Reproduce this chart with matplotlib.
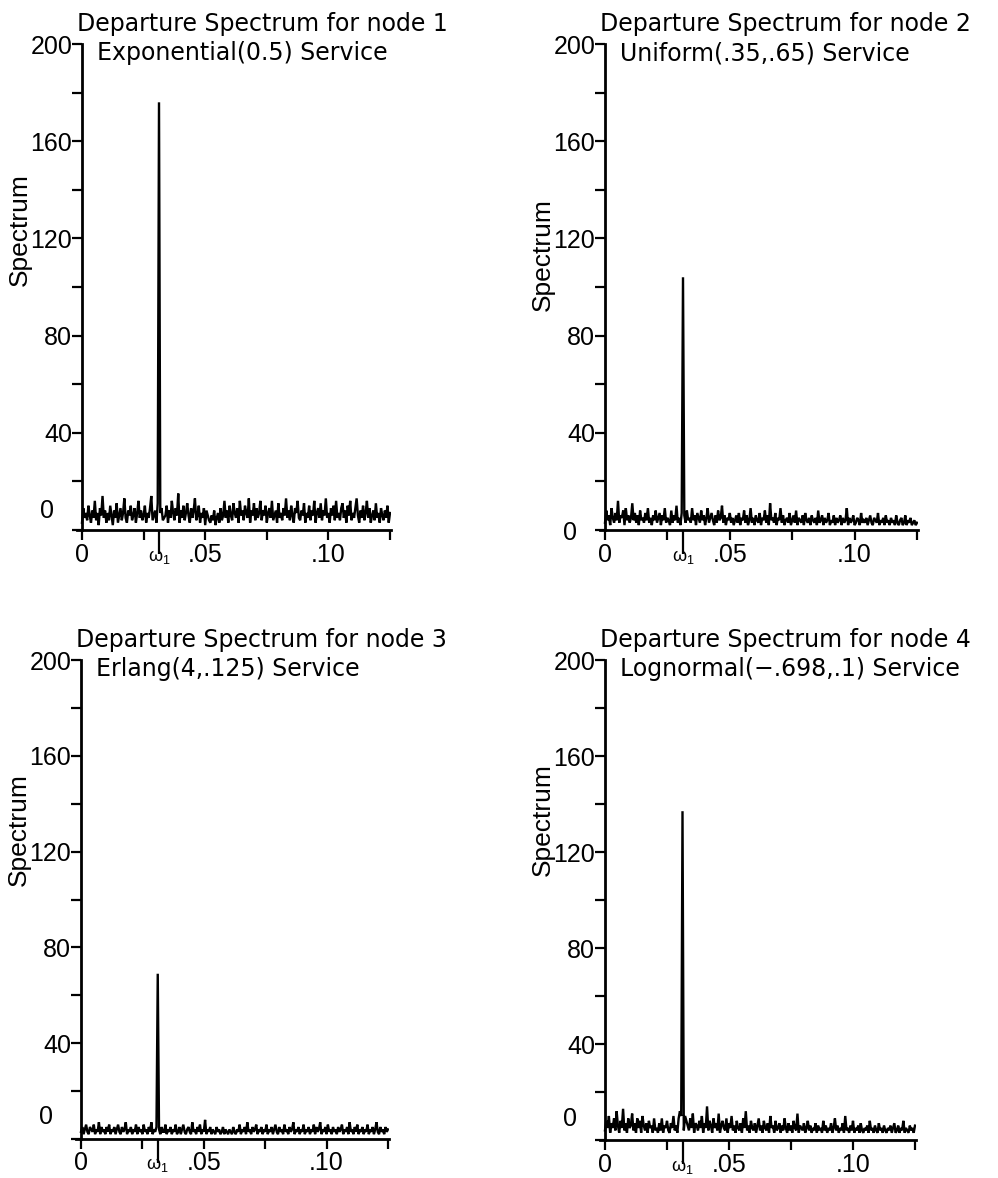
import numpy as np
import matplotlib
matplotlib.use("Agg")
import matplotlib.pyplot as plt
from matplotlib.transforms import ScaledTranslation

# ---------------- data ----------------
N_FREQ = 1920            # frequency grid k / 1920, k = 0..240  (0 .. 0.125)
OMEGA1 = 60 / 1920       # input frequency (index 60)

titles = ["Departure Spectrum for node 1", "Departure Spectrum for node 2",
          "Departure Spectrum for node 3", "Departure Spectrum for node 4"]
services = ["Exponential(0.5) Service", "Uniform(.35,.65) Service",
            "Erlang(4,.125) Service", "Lognormal(\u2212.698,.1) Service"]

spec_node1 = [
    3, 9, 5, 7, 4, 10, 6, 3, 8, 5, 12, 4, 7, 2, 9, 6, 14, 5, 8, 3,
    7, 4, 10, 6, 2, 8, 5, 11, 3, 6, 9, 4, 7, 13, 5, 3, 8, 6, 10, 4,
    6, 9, 3, 7, 12, 5, 8, 4, 6, 10, 3, 7, 5, 9, 14, 4, 6, 8, 3, 11,
    176, 7, 9, 4, 5, 6, 10, 3, 8, 5, 12, 7, 4, 9, 6, 15, 3, 8, 5, 10,
    4, 7, 11, 6, 3, 9, 5, 8, 13, 4, 6, 10, 3, 7, 5, 9, 2, 8, 6, 4,
    3, 6, 4, 8, 2, 5, 7, 3, 9, 4, 6, 12, 5, 8, 3, 10, 6, 4, 11, 7,
    5, 9, 3, 12, 6, 8, 4, 10, 7, 5, 13, 3, 8, 6, 11, 4, 9, 5, 7, 12,
    4, 8, 6, 10, 3, 7, 9, 5, 12, 4, 6, 8, 3, 11, 5, 7, 4, 9, 6, 13,
    5, 8, 4, 10, 6, 3, 9, 7, 12, 5, 4, 8, 6, 11, 3, 7, 5, 10, 4, 8,
    6, 12, 3, 7, 9, 5, 11, 4, 8, 6, 13, 5, 7, 3, 9, 6, 10, 4, 12, 5,
    7, 4, 9, 11, 5, 8, 3, 10, 6, 12, 4, 7, 5, 9, 13, 6, 3, 8, 5, 10,
    4, 7, 12, 5, 9, 3, 6, 8, 4, 11, 5, 7, 3, 9, 6, 4, 8, 5, 10, 3,
    7]

spec_node2 = [
    3, 8, 4, 6, 2, 9, 5, 3, 7, 4, 12, 3, 6, 5, 8, 2, 9, 4, 6, 3,
    5, 11, 4, 7, 3, 6, 2, 8, 4, 5, 3, 7, 4, 9, 3, 5, 2, 6, 4, 8,
    3, 5, 7, 2, 6, 4, 9, 3, 5, 4, 2, 8, 3, 6, 4, 10, 3, 5, 2, 7,
    104, 6, 3, 8, 4, 5, 3, 9, 4, 6, 2, 7, 5, 3, 8, 4, 6, 2, 5, 9,
    3, 5, 7, 4, 2, 6, 3, 8, 4, 5, 10, 3, 6, 2, 5, 4, 7, 3, 5, 2,
    4, 6, 3, 7, 2, 5, 4, 8, 3, 6, 2, 4, 9, 3, 5, 2, 6, 4, 3, 7,
    2, 5, 4, 8, 3, 6, 2, 11, 4, 5, 3, 7, 2, 5, 4, 9, 3, 6, 2, 4,
    5, 3, 7, 2, 4, 6, 3, 8, 2, 5, 4, 3, 6, 2, 7, 4, 3, 5, 2, 6,
    4, 3, 5, 2, 8, 3, 4, 6, 2, 5, 3, 4, 7, 2, 4, 3, 6, 2, 5, 3,
    4, 6, 2, 5, 3, 4, 9, 2, 5, 3, 4, 6, 2, 3, 5, 4, 2, 7, 3, 4,
    3, 5, 2, 4, 6, 3, 2, 5, 4, 3, 7, 2, 4, 3, 5, 2, 6, 3, 4, 2,
    5, 3, 4, 2, 6, 3, 2, 4, 5, 2, 3, 6, 2, 4, 3, 5, 2, 3, 4, 2,
    3]

spec_node3 = [
    3, 5, 2, 4, 6, 3, 2, 5, 4, 3, 6, 2, 4, 3, 7, 2, 5, 3, 4, 2,
    5, 3, 6, 2, 4, 3, 5, 2, 4, 6, 3, 2, 5, 3, 4, 7, 2, 4, 3, 5,
    2, 4, 3, 6, 2, 5, 3, 4, 2, 6, 3, 4, 2, 5, 3, 7, 2, 4, 3, 5,
    69, 4, 2, 5, 3, 3, 6, 2, 4, 3, 5, 2, 4, 3, 6, 2, 3, 5, 2, 4,
    6, 3, 2, 4, 5, 3, 2, 7, 3, 4, 2, 5, 3, 6, 2, 4, 3, 8, 2, 4,
    3, 5, 2, 4, 3, 2, 5, 3, 4, 2, 3, 5, 2, 4, 3, 2, 4, 3, 2, 5,
    3, 2, 4, 3, 6, 2, 4, 3, 5, 2, 7, 3, 4, 2, 5, 3, 4, 6, 2, 4,
    3, 5, 2, 4, 3, 6, 2, 4, 3, 5, 2, 4, 6, 3, 2, 5, 3, 4, 2, 6,
    3, 4, 2, 5, 3, 4, 7, 2, 4, 3, 5, 2, 4, 3, 6, 2, 4, 3, 5, 2,
    4, 3, 6, 2, 5, 3, 4, 7, 2, 4, 3, 5, 2, 6, 3, 4, 2, 5, 3, 4,
    2, 5, 3, 4, 6, 2, 4, 3, 5, 2, 7, 3, 4, 2, 5, 3, 6, 2, 4, 3,
    5, 2, 4, 3, 6, 2, 4, 3, 5, 2, 4, 7, 3, 2, 5, 3, 4, 2, 5, 3,
    4]

spec_node4 = [
    4, 8, 5, 10, 3, 7, 5, 9, 4, 12, 6, 3, 8, 5, 13, 4, 7, 3, 9, 5,
    6, 11, 4, 7, 3, 9, 5, 8, 3, 10, 6, 4, 7, 3, 8, 5, 6, 3, 9, 4,
    5, 3, 7, 4, 9, 3, 6, 5, 8, 4, 3, 7, 5, 10, 4, 6, 3, 9, 12, 10,
    137, 4, 10, 8, 6, 4, 9, 5, 11, 3, 7, 6, 4, 8, 5, 10, 3, 7, 5, 14,
    4, 8, 6, 3, 9, 5, 7, 4, 11, 3, 6, 8, 5, 4, 9, 3, 7, 5, 10, 4,
    6, 3, 8, 5, 4, 7, 3, 9, 5, 12, 4, 6, 3, 8, 5, 4, 7, 3, 6, 9,
    4, 6, 3, 8, 5, 4, 7, 3, 10, 5, 6, 3, 8, 4, 5, 7, 3, 6, 4, 9,
    5, 3, 7, 4, 6, 3, 8, 5, 4, 11, 3, 6, 5, 4, 7, 3, 5, 8, 4, 6,
    3, 5, 4, 7, 3, 6, 4, 5, 3, 8, 4, 6, 3, 5, 4, 7, 3, 5, 9, 4,
    6, 3, 5, 4, 7, 3, 10, 4, 5, 3, 6, 4, 8, 3, 5, 4, 6, 3, 7, 4,
    3, 5, 4, 6, 3, 8, 4, 5, 3, 6, 4, 3, 7, 4, 5, 3, 6, 4, 3, 5,
    4, 6, 3, 5, 7, 3, 4, 6, 3, 5, 4, 8, 3, 5, 4, 3, 6, 4, 5, 3,
    6]

spectra = [spec_node1, spec_node2, spec_node3, spec_node4]

x_major = [0, OMEGA1, 0.05, 0.10]
x_major_labels = ["0", r"$\mathregular{\omega_1}$", ".05", ".10"]
x_minor = [0.025, 0.075, 0.125]
y_major = [0, 40, 80, 120, 160, 200]
y_minor = [20, 60, 100, 140, 180]

# ---------------- layout (pixels) ----------------
W, H = 998, 1178
# (spine x, x=0.125 px, y=0 px, y=200 px)
panels_px = [(82, 390, 530, 44), (605, 917, 530, 44),
             (81, 388, 1139, 660), (605, 915, 1140, 660)]
# offset (px) of the "0" y tick label in the original drawing
zero_shift = [(-18, 22), (-18, 0), (-18, 24), (-18, 24)]
ylabel_y = [230, 255, 830, 820]
XMIN, XMAX = -0.002, 0.1255

fig = plt.figure(figsize=(W / 100, H / 100), dpi=100)
tick_font = "Liberation Sans"
title_font = "DejaVu Sans"

for i, (sx, rx, by, ty) in enumerate(panels_px):
    scale = (rx - sx) / 0.125
    left = sx + XMIN * scale
    right = sx + XMAX * scale
    ax = fig.add_axes([left / W, 1 - by / H, (right - left) / W, (by - ty) / H])
    freq = np.arange(len(spectra[i])) / N_FREQ
    ax.plot(freq, spectra[i], color="black", lw=1.7, solid_joinstyle="miter")
    ax.set_xlim(XMIN, XMAX)
    ax.set_ylim(0, 200)
    for s in ["top", "right"]:
        ax.spines[s].set_visible(False)
    ax.spines["left"].set_position(("data", 0))
    ax.spines["left"].set_linewidth(2)
    ax.spines["bottom"].set_linewidth(2)
    ax.set_xticks(x_major)
    ax.set_xticklabels(x_major_labels)
    ax.set_xticks(x_minor, minor=True)
    ax.set_yticks(y_major)
    ax.set_yticks(y_minor, minor=True)
    ax.tick_params(axis="both", which="both", direction="out", length=7,
                   width=1.6, labelsize=18, pad=0)
    ax.tick_params(axis="x", which="both", pad=2)
    for lab in ax.get_xticklabels() + ax.get_yticklabels():
        lab.set_family(tick_font)
    # omega_1 tick longer, label smaller and lower
    t = ax.xaxis.get_major_ticks()[1]
    t.tick1line.set_markersize(17)
    t.label1.set_fontsize(13)
    t.label1.set_transform(t.label1.get_transform() +
                           ScaledTranslation(0, -5 / 100, fig.dpi_scale_trans))
    # "0" y label placed off the axis, as in the original
    z = ax.yaxis.get_major_ticks()[0].label1
    dx, dy = zero_shift[i]
    z.set_transform(z.get_transform() +
                    ScaledTranslation(dx / 100, dy / 100, fig.dpi_scale_trans))
    ax.patch.set_alpha(0)

    # titles
    fig.text((sx - 5) / W, 1 - (ty - 20) / H, titles[i], fontsize=17,
             family=title_font, ha="left", va="center")
    fig.text((sx + 15) / W, 1 - (ty + 9) / H, services[i], fontsize=17,
             family=title_font, ha="left", va="center")
    # y label
    fig.text((sx - 62) / W, 1 - ylabel_y[i] / H,
             "Spectrum", rotation=90, fontsize=19, family=tick_font,
             ha="center", va="center")

fig.savefig("out.png", dpi=100)
